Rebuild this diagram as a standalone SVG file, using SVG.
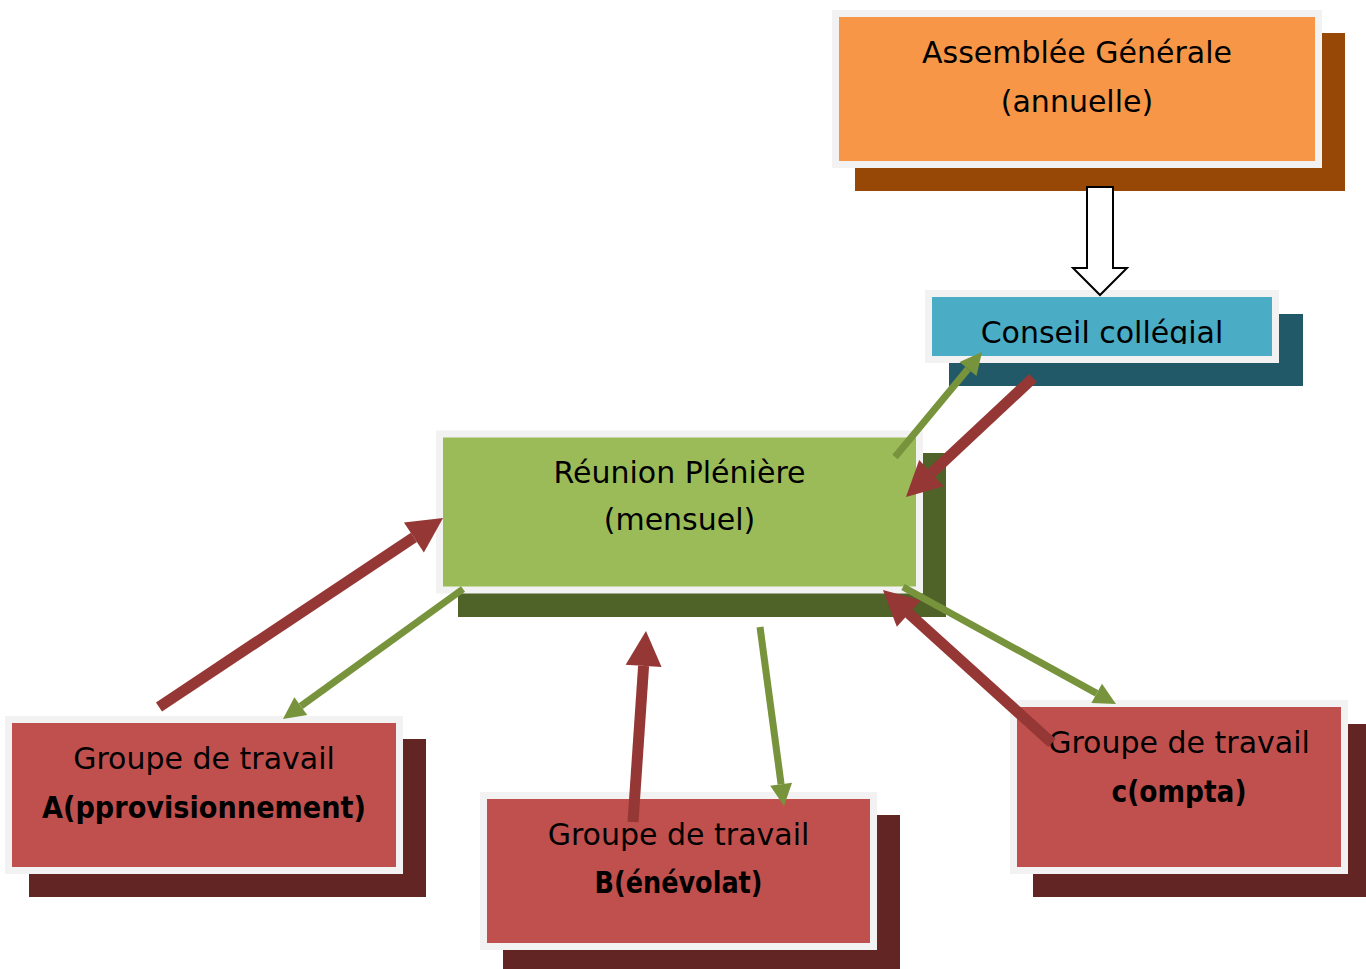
<svg xmlns="http://www.w3.org/2000/svg" width="1366" height="969" viewBox="0 0 1366 969">
<style>
.lbl{font-family:"DejaVu Sans","Liberation Sans",sans-serif;font-size:30px;fill:#000;text-anchor:middle}
.b{font-weight:bold}
.frame{stroke:#F2F2F2;stroke-width:7}
.red{stroke:#953735;stroke-width:11;fill:none}
.grn{stroke:#77933C;stroke-width:7;fill:none}
</style>
<defs>
<marker id="hr" markerUnits="userSpaceOnUse" markerWidth="36" markerHeight="36" refX="0" refY="18" orient="auto" overflow="visible">
<path d="M0,0 L35,18 L0,36 z" fill="#953735"/>
</marker>
<marker id="hg" markerUnits="userSpaceOnUse" markerWidth="22" markerHeight="22" refX="0" refY="11" orient="auto" overflow="visible">
<path d="M0,0 L22,11 L0,22 z" fill="#77933C"/>
</marker>
<clipPath id="cc"><rect x="932" y="297" width="340" height="47"/></clipPath>
</defs>
<rect width="1366" height="969" fill="#fff"/>

<g id="assemblee">
<rect x="855" y="33" width="490" height="158" fill="#974806"/>
<rect class="frame" x="835.5" y="13.5" width="483" height="151" fill="#F79646"/>
<text class="lbl" x="1077" y="63">Assemblée Générale</text>
<text class="lbl" x="1077" y="112">(annuelle)</text>
</g>

<g id="conseil">
<rect x="949" y="314" width="354" height="72" fill="#215968"/>
<rect class="frame" x="928.5" y="293.5" width="347" height="66" fill="#4BACC6"/>
<text class="lbl" x="1102" y="343" clip-path="url(#cc)">Conseil collégial</text>
</g>

<g id="reunion">
<rect x="458" y="453" width="488" height="164" fill="#4F6228"/>
<rect class="frame" x="439.5" y="434" width="480" height="156" fill="#9BBB59"/>
<text class="lbl" x="679.5" y="483">Réunion Plénière</text>
<text class="lbl" x="679.5" y="530">(mensuel)</text>
</g>

<g id="groupeA">
<rect x="29" y="739" width="397" height="158" fill="#632523"/>
<rect class="frame" x="8.5" y="719.5" width="391" height="151" fill="#C0504D"/>
<text class="lbl" x="204" y="769">Groupe de travail</text>
<text class="lbl b" x="204" y="818" textLength="324" lengthAdjust="spacingAndGlyphs">A(pprovisionnement)</text>
</g>

<g id="groupeB">
<rect x="503" y="815" width="397" height="154" fill="#632523"/>
<rect class="frame" x="483.5" y="795.5" width="390" height="151" fill="#C0504D"/>
<text class="lbl" x="678.5" y="845">Groupe de travail</text>
<text class="lbl b" x="678.5" y="893" textLength="168" lengthAdjust="spacingAndGlyphs">B(énévolat)</text>
</g>

<g id="groupeC">
<rect x="1033" y="724" width="333" height="173" fill="#632523"/>
<rect class="frame" x="1013.5" y="703.5" width="331" height="167" fill="#C0504D"/>
<text class="lbl" x="1179" y="753">Groupe de travail</text>
<text class="lbl b" x="1179" y="802" textLength="135" lengthAdjust="spacingAndGlyphs">c(ompta)</text>
</g>

<g id="connectors">
<path d="M1087,187 L1113,187 L1113,268 L1127,268 L1100,295 L1073,268 L1087,268 Z" fill="#fff" stroke="#000" stroke-width="2"/>
<line class="grn" x1="895" y1="457" x2="968" y2="368.9" marker-end="url(#hg)"/>
<line class="red" x1="1033" y1="378" x2="931.5" y2="473.1" marker-end="url(#hr)"/>
<line class="red" x1="159" y1="707" x2="413.9" y2="537.4" marker-end="url(#hr)"/>
<line class="grn" x1="463" y1="589" x2="300.8" y2="706.1" marker-end="url(#hg)"/>
<line class="red" x1="633" y1="822" x2="643.6" y2="665.9" marker-end="url(#hr)"/>
<line class="grn" x1="760" y1="627" x2="781.1" y2="784.2" marker-end="url(#hg)"/>
<line class="red" x1="1052" y1="743" x2="908.9" y2="613.5" marker-end="url(#hr)"/>
<line class="grn" x1="903" y1="587" x2="1096.7" y2="693.4" marker-end="url(#hg)"/>
</g>
</svg>
